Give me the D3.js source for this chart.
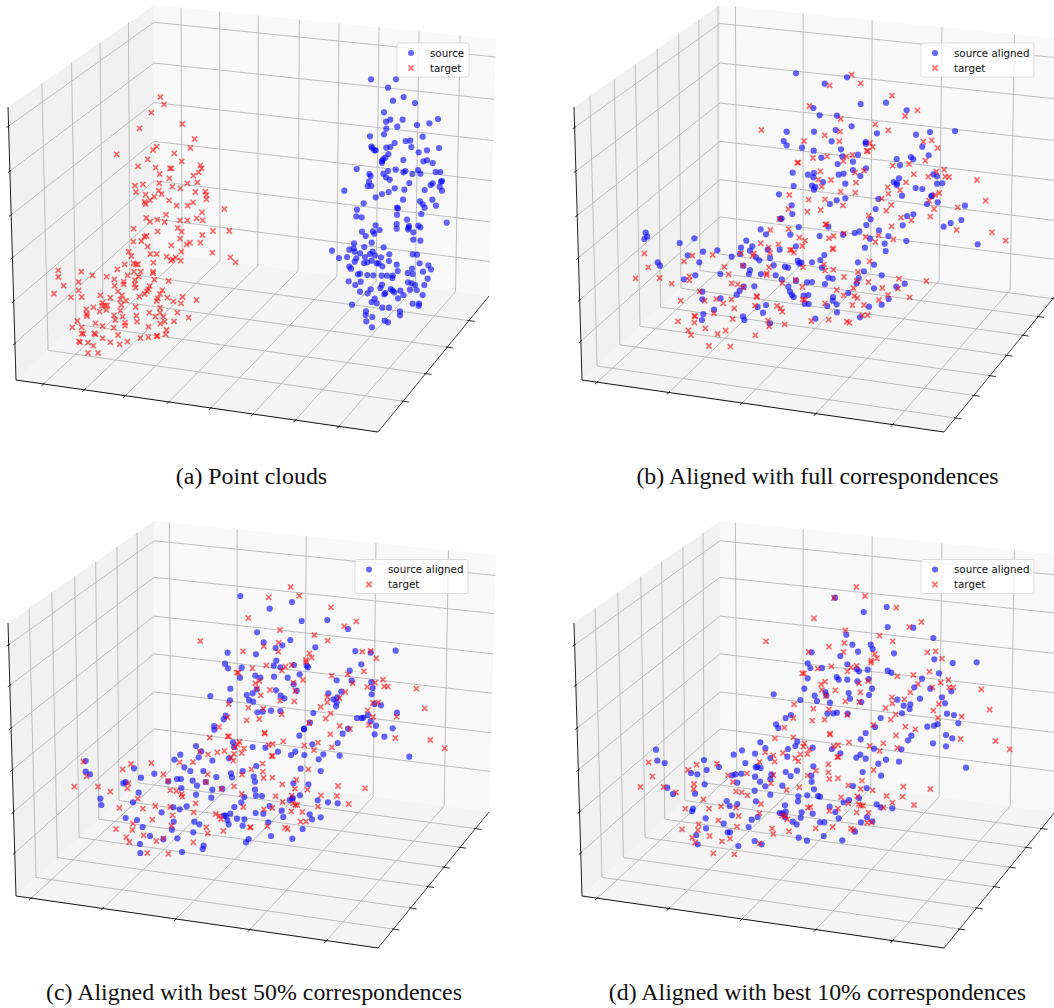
<!DOCTYPE html>
<html lang="en">
<head>
    <meta charset="utf-8">
    <style>
        body { margin: 0; background: #fff; overflow: hidden; }
        svg { display: block; }
        .caption { font-family: "Liberation Serif", serif; font-size: 23.9px; fill: #111; text-anchor: middle; }
        .legend text { font-family: "DejaVu Sans", sans-serif; font-size: 10.3px; fill: #111; }
    </style>
</head>
<body>
    <svg width="1054" height="1008"></svg>
    <script src="https://cdn.jsdelivr.net/npm/d3@7"></script>
    <script>
        /************************************************************************************
        * Data: points, [x, y] at 3x, each list relative to its own crop
        ************************************************************************************/
        const targetA = [[481,291],[492,313],[454,338],[547,372],[419,385],[584,417],[470,440],[459,450],[571,444],[350,463],[523,460],[443,478],[545,484],[414,499],[467,503],[510,505],[514,505],[601,496],[605,505],[596,517],[580,527],[479,522],[508,535],[478,550],[429,553],[405,557],[562,550],[592,547],[517,560],[541,565],[476,572],[408,576],[485,582],[437,584],[463,590],[586,576],[616,575],[619,585],[619,598],[450,600],[507,601],[434,606],[437,612],[579,607],[563,617],[530,617],[673,627],[606,637],[498,644],[439,654],[450,665],[472,659],[494,666],[540,661],[562,661],[590,655],[608,661],[533,684],[401,686],[473,694],[545,695],[639,693],[688,693],[607,705],[433,710],[440,708],[540,716],[400,725],[424,723],[570,728],[560,733],[601,728],[514,736],[443,740],[386,755],[544,755],[637,758],[451,762],[470,762],[394,768],[500,770],[518,778],[527,772],[513,782],[542,782],[691,772],[707,787],[374,793],[401,790],[408,793],[414,793],[460,788],[352,808],[175,811],[244,815],[402,815],[422,815],[459,815],[459,820],[277,826],[320,830],[383,826],[416,830],[175,831],[343,838],[405,840],[463,839],[506,843],[371,845],[371,853],[236,846],[404,853],[449,858],[344,857],[191,857],[407,863],[445,868],[441,874],[487,871],[236,871],[354,874],[162,881],[434,882],[480,882],[366,886],[245,891],[213,892],[301,886],[331,893],[418,890],[473,895],[502,893],[548,891],[361,898],[378,902],[470,903],[589,900],[520,904],[543,910],[307,908],[315,916],[322,916],[407,921],[280,922],[259,928],[306,918],[319,930],[299,935],[364,915],[480,923],[361,932],[448,938],[532,938],[260,942],[261,948],[342,946],[368,950],[409,947],[466,950],[490,950],[480,938],[346,960],[494,965],[411,965],[481,971],[522,964],[566,953],[232,963],[287,970],[375,968],[375,977],[308,978],[217,982],[245,982],[341,983],[445,980],[500,990],[245,1001],[250,1001],[283,1000],[286,1003],[354,1005],[470,1008],[472,1008],[497,1003],[421,1014],[445,1012],[308,1015],[237,1024],[240,1027],[264,1028],[331,1027],[382,1025],[359,1033],[280,1037],[264,1059],[294,1059]];
        const sourceA = [[333,238],[408,238],[384,263],[399,302],[431,291],[465,309],[372,337],[378,365],[391,359],[428,359],[534,357],[508,370],[471,375],[412,380],[379,386],[372,403],[330,409],[488,410],[437,423],[451,422],[404,429],[334,440],[337,444],[343,451],[347,451],[379,443],[391,441],[454,441],[501,451],[537,444],[476,457],[385,462],[376,473],[369,478],[366,483],[366,488],[430,480],[490,484],[501,481],[518,489],[290,507],[384,513],[407,509],[436,513],[430,517],[474,510],[457,522],[481,521],[527,516],[541,516],[328,522],[332,528],[370,521],[378,532],[389,539],[327,545],[323,558],[334,558],[448,549],[543,545],[546,543],[518,550],[512,555],[539,560],[546,572],[253,572],[404,565],[433,569],[494,570],[386,576],[366,582],[347,592],[429,599],[517,599],[480,604],[488,613],[494,623],[528,617],[311,610],[291,629],[411,623],[414,625],[411,644],[484,642],[289,649],[305,652],[441,659],[560,668],[347,676],[410,672],[447,678],[446,683],[475,677],[481,682],[444,688],[410,686],[306,695],[339,694],[343,701],[359,690],[460,697],[317,708],[460,719],[481,722],[335,728],[282,730],[313,741],[371,742],[216,752],[268,749],[281,745],[284,755],[300,760],[338,755],[330,762],[345,766],[237,774],[261,771],[289,775],[315,771],[363,772],[388,763],[458,763],[471,764],[284,785],[312,789],[322,787],[335,782],[350,790],[356,790],[387,783],[479,790],[268,800],[273,806],[367,799],[410,794],[505,796],[513,808],[413,813],[443,819],[456,806],[458,822],[489,815],[294,823],[300,821],[322,825],[340,826],[365,827],[381,827],[398,827],[397,834],[503,836],[266,844],[302,845],[286,855],[444,847],[455,850],[465,855],[493,855],[366,854],[361,864],[332,868],[392,867],[398,872],[403,877],[421,872],[450,869],[470,870],[300,875],[323,880],[376,879],[373,883],[430,885],[488,885],[414,895],[344,896],[335,906],[350,910],[458,911],[477,911],[476,917],[276,914],[367,923],[387,923],[318,934],[420,934],[317,945],[337,951],[420,946],[319,964],[374,962],[384,967],[336,982]];

        const sourceBLeft = [[693,70],[665,245],[656,273],[665,286],[683,368],[686,408],[642,433],[680,466],[682,492],[646,506],[650,506],[701,531],[587,538],[603,553],[676,554],[544,572],[388,565],[344,579],[242,548],[247,560],[238,567],[528,593],[562,589],[693,589],[608,599],[644,599],[555,602],[525,612],[500,620],[457,601],[414,605],[368,616],[615,624],[573,622],[583,631],[403,637],[278,637],[285,647],[535,647],[555,660],[552,672],[626,646],[660,650],[669,653],[698,632],[703,641],[466,672],[588,672],[632,676],[391,676],[357,688],[650,688],[693,692],[568,709],[536,710],[670,710],[524,722],[515,734],[412,725],[675,725],[681,735],[686,741],[467,745],[412,748],[415,792],[411,810],[447,779],[603,765],[578,771],[594,788],[534,799],[538,810],[615,820]];
        const targetBLeft = [[589,240],[700,338],[697,338],[673,435],[670,477],[644,507],[671,537],[616,540],[703,563],[587,580],[640,583],[611,592],[680,600],[675,600],[687,608],[527,610],[567,610],[563,617],[615,609],[443,615],[382,617],[238,610],[357,634],[250,652],[212,685],[284,684],[373,679],[373,691],[320,701],[478,651],[491,673],[533,647],[612,652],[605,675],[605,670],[652,699],[692,690],[500,700],[518,703],[535,712],[404,724],[347,752],[419,752],[454,747],[475,760],[500,748],[575,738],[576,741],[570,767],[636,768],[647,775],[652,785],[508,775],[447,790],[388,798],[391,799],[339,814],[503,807],[388,818],[421,835],[370,841],[378,855],[458,852],[482,842],[571,856],[432,888],[496,890],[612,829],[609,812],[659,823]];
        const sourceBRight = [[141,82],[74,101],[182,162],[258,158],[40,174],[320,181],[59,196],[111,197],[155,229],[42,245],[107,240],[390,246],[465,243],[231,250],[348,254],[95,274],[197,276],[197,281],[367,290],[6,293],[41,302],[123,298],[386,316],[127,319],[174,314],[64,323],[290,327],[333,321],[340,328],[159,335],[113,342],[300,346],[198,355],[159,360],[24,374],[42,369],[40,382],[116,374],[131,371],[181,378],[400,373],[411,379],[297,385],[281,396],[291,400],[290,405],[411,401],[427,400],[69,396],[136,401],[36,407],[46,411],[42,419],[347,414],[367,417],[306,437],[136,445],[110,451],[90,462],[235,447],[394,439],[396,437],[381,462],[413,457],[495,467],[227,477],[321,498],[340,493],[212,508],[199,525],[85,530],[484,510],[452,519],[431,530],[308,526],[237,541],[178,544],[164,549],[129,554],[59,558],[265,558],[210,566],[319,573],[254,581],[533,583],[195,593],[257,603],[73,615],[61,630],[36,637],[174,637],[222,644],[66,653],[192,664],[245,676],[176,684],[85,683],[98,686],[21,697],[36,696],[170,700],[75,702],[314,701],[289,710],[222,715],[145,729],[11,737],[25,735],[266,747],[99,741],[98,752],[14,761],[26,762],[245,764],[82,768],[110,763],[207,770],[111,787],[180,802],[46,806],[4,638]];
        const targetBRight = [[155,74],[182,100],[89,106],[276,137],[28,168],[352,181],[315,198],[122,207],[226,223],[120,245],[265,241],[74,256],[12,273],[118,274],[395,271],[370,275],[210,279],[218,291],[413,294],[200,303],[204,303],[157,315],[139,319],[130,333],[81,319],[39,324],[376,332],[327,342],[278,347],[192,362],[165,368],[61,364],[432,359],[409,365],[385,380],[341,373],[436,380],[447,381],[55,389],[93,390],[168,398],[318,397],[263,412],[65,410],[300,420],[122,425],[166,428],[265,431],[418,429],[405,435],[245,446],[531,390],[557,452],[26,449],[75,448],[129,466],[274,465],[387,452],[473,472],[402,477],[259,482],[22,485],[62,480],[206,497],[391,500],[303,503],[334,511],[275,529],[76,523],[79,523],[470,540],[576,547],[617,572],[132,550],[101,558],[87,565],[197,561],[236,556],[226,576],[280,568],[15,572],[7,588],[100,595],[98,598],[209,634],[72,643],[9,652],[75,662],[100,659],[174,666],[132,681],[297,686],[7,711],[170,693],[205,696],[379,693],[160,714],[247,714],[294,716],[110,720],[264,735],[131,736],[329,742],[163,738],[172,744],[237,750],[8,748],[15,750],[75,760],[157,765],[192,765],[187,796],[203,795],[86,809],[34,813],[141,815],[148,818]];

        const sourceCLeft = [[571,78],[533,248],[525,281],[534,295],[575,293],[570,323],[541,356],[481,378],[590,375],[597,390],[540,391],[527,437],[521,448],[492,468],[493,479],[549,517],[552,531],[438,528],[391,554],[373,569],[454,544],[446,562],[487,572],[537,565],[107,573],[252,595],[403,592],[107,605],[120,613],[313,611],[421,603],[460,603],[273,623],[381,627],[393,627],[227,636],[220,640],[428,632],[499,621],[543,610],[578,603],[546,622],[355,634],[441,647],[467,636],[394,654],[487,659],[517,656],[266,668],[438,674],[484,683],[151,686],[249,697],[154,705],[583,681],[574,697],[553,711],[410,709],[370,712],[389,718],[335,727],[541,731],[527,737],[522,737],[532,750],[227,744],[261,750],[561,746],[583,748],[371,755],[433,755],[448,763],[536,763],[578,767],[278,771],[366,779],[430,787],[300,798],[340,808],[382,805],[596,807],[588,817],[270,822],[461,827],[458,837],[271,849],[396,846]];
        const targetCLeft = [[595,144],[451,213],[579,244],[561,308],[565,308],[536,402],[595,413],[533,442],[590,451],[507,471],[479,503],[533,499],[537,499],[568,516],[563,524],[555,532],[582,535],[502,547],[523,543],[575,549],[450,545],[474,553],[552,552],[543,562],[550,572],[429,576],[389,577],[100,575],[243,582],[304,579],[218,598],[110,619],[340,613],[473,613],[576,614],[73,650],[144,650],[181,665],[235,640],[232,655],[468,636],[354,633],[552,649],[514,657],[361,661],[379,663],[395,672],[397,680],[575,672],[263,686],[437,700],[208,714],[316,708],[279,716],[361,711],[431,727],[497,732],[508,738],[513,747],[580,711],[368,736],[307,749],[249,761],[364,767],[198,777],[247,780],[469,772],[473,790],[600,772],[520,783],[281,796],[229,802],[319,813],[340,805],[238,816],[430,817],[292,849],[355,851]];
        const sourceCRight = [[126,96],[59,116],[155,153],[232,150],[294,177],[21,187],[121,210],[41,217],[97,226],[77,234],[196,232],[316,243],[437,242],[362,248],[18,253],[79,272],[334,283],[71,287],[91,292],[132,285],[170,287],[174,292],[299,302],[149,313],[16,317],[31,323],[72,320],[113,323],[260,331],[305,332],[364,336],[131,343],[368,354],[20,358],[78,361],[140,362],[8,370],[365,373],[235,370],[274,365],[92,377],[103,385],[250,388],[262,382],[10,395],[260,397],[258,409],[374,402],[393,406],[22,427],[38,425],[63,422],[91,423],[190,429],[321,444],[335,444],[340,443],[354,435],[441,428],[362,454],[180,458],[162,478],[162,476],[378,467],[294,476],[278,491],[428,475],[148,497],[374,493],[403,500],[8,531],[46,533],[187,523],[263,519],[84,545],[136,545],[123,555],[163,555],[220,553],[269,557],[478,560],[206,568],[19,588],[152,596],[212,603],[11,620],[15,635],[130,640],[175,643],[15,659],[18,677],[36,678],[150,676],[128,684],[119,690],[203,691],[234,697],[263,700],[59,708],[95,722],[17,729],[40,731],[179,733],[100,741],[212,742],[186,748],[55,757],[158,777],[63,798],[127,806],[127,686]];
        const targetCRight = [[122,51],[56,82],[148,77],[243,112],[319,154],[283,169],[90,180],[193,195],[233,212],[86,218],[41,229],[85,245],[178,250],[185,263],[337,245],[362,243],[379,265],[168,270],[168,276],[7,295],[49,286],[106,290],[125,285],[96,302],[342,304],[245,317],[293,313],[159,330],[130,338],[399,329],[375,338],[308,340],[28,333],[16,340],[352,351],[403,349],[414,350],[499,356],[136,363],[60,360],[21,356],[286,366],[32,376],[232,381],[268,384],[90,392],[133,394],[232,397],[212,411],[369,399],[385,397],[524,415],[40,416],[95,433],[353,421],[242,430],[227,446],[369,441],[440,440],[28,447],[177,459],[269,468],[357,465],[300,477],[44,488],[44,491],[241,493],[436,504],[541,510],[584,535],[100,514],[204,518],[163,526],[246,532],[56,525],[68,522],[192,540],[65,558],[68,558],[38,581],[4,598],[39,605],[175,598],[139,630],[41,624],[67,623],[97,643],[264,648],[345,655],[135,656],[172,659],[77,679],[125,677],[213,676],[261,678],[98,696],[136,705],[142,705],[129,700],[296,702],[204,710],[42,718],[67,714],[124,724],[157,726],[152,755],[168,755],[52,769],[105,773],[113,777],[2,772]];

        const sourceDLeft = [[560,247],[548,280],[556,294],[548,325],[538,356],[446,373],[569,377],[576,393],[526,390],[498,435],[482,444],[453,463],[460,474],[406,517],[517,515],[511,528],[421,534],[489,537],[563,533],[93,539],[351,541],[390,551],[326,554],[436,564],[487,560],[97,572],[237,570],[119,579],[282,591],[245,600],[198,609],[217,613],[361,579],[392,592],[397,590],[407,594],[349,611],[332,613],[322,616],[565,589],[482,606],[516,602],[497,618],[390,620],[439,613],[436,627],[405,635],[337,638],[239,643],[559,617],[560,635],[421,649],[472,647],[389,662],[127,653],[144,672],[210,671],[436,674],[567,658],[579,678],[547,676],[520,679],[519,694],[305,693],[393,694],[337,702],[314,708],[480,706],[204,716],[201,724],[464,729],[472,730],[482,725],[480,742],[503,755],[530,727],[527,743],[515,763],[563,731],[321,736],[398,741],[380,749],[242,745],[296,761],[243,775],[371,771],[315,787],[308,787],[214,795],[521,803],[546,812],[218,823],[340,828],[389,813],[410,823]];
        const targetDLeft = [[567,145],[423,214],[551,246],[532,310],[537,310],[578,296],[507,403],[565,416],[505,444],[478,473],[562,452],[450,505],[505,502],[538,520],[535,530],[553,538],[421,547],[474,549],[526,553],[445,556],[547,552],[511,565],[520,574],[449,575],[403,576],[71,577],[215,584],[276,581],[189,600],[82,619],[309,616],[366,610],[445,615],[548,616],[573,602],[324,636],[438,640],[46,651],[116,651],[153,667],[207,642],[206,657],[523,652],[485,660],[333,664],[350,667],[367,676],[235,688],[408,702],[549,713],[556,711],[181,716],[252,716],[288,709],[333,713],[403,730],[341,738],[471,737],[481,738],[280,751],[487,748],[221,763],[219,780],[171,778],[336,770],[441,775],[445,792],[492,784],[572,775],[254,798],[202,803],[211,817],[315,806],[291,814],[404,820],[265,850],[328,853]];
        const sourceDRight = [[45,83],[200,111],[131,126],[203,171],[280,173],[79,194],[340,204],[97,224],[152,224],[158,237],[114,245],[222,250],[61,258],[343,268],[398,279],[470,277],[82,283],[6,294],[110,297],[117,304],[143,299],[203,302],[214,308],[357,310],[50,321],[56,329],[82,329],[112,334],[146,327],[306,326],[283,352],[331,356],[156,356],[394,364],[16,366],[19,376],[86,369],[147,375],[90,386],[232,389],[300,386],[366,382],[30,398],[124,396],[375,400],[251,407],[271,403],[269,417],[22,431],[40,430],[51,428],[83,431],[246,430],[381,431],[402,435],[182,444],[415,460],[322,470],[342,467],[353,462],[165,471],[137,489],[378,495],[274,497],[264,511],[122,508],[397,505],[339,520],[378,529],[36,537],[162,536],[244,538],[61,550],[121,554],[109,563],[137,566],[198,569],[237,575],[175,581],[438,593],[128,606],[183,617],[99,648],[140,654],[0,680],[117,684],[71,697],[87,690],[170,703],[182,712],[217,715],[29,710],[46,726],[56,745],[141,742],[157,754],[123,757],[0,757],[13,757],[105,785],[11,798],[67,811]];
        const targetDRight = [[109,51],[135,78],[42,84],[229,113],[304,156],[268,171],[76,181],[179,197],[218,214],[73,219],[27,230],[71,246],[322,247],[347,244],[366,266],[164,252],[171,265],[154,272],[153,278],[34,289],[93,292],[110,288],[82,304],[328,305],[232,319],[280,315],[144,333],[117,340],[15,335],[3,343],[385,330],[362,338],[294,342],[46,361],[6,360],[337,352],[388,352],[400,352],[484,358],[121,367],[271,367],[18,378],[216,382],[253,388],[76,394],[118,396],[217,400],[197,414],[357,402],[27,418],[509,419],[340,422],[227,433],[82,435],[212,449],[14,449],[354,444],[425,440],[160,465],[256,470],[286,478],[30,491],[30,494],[228,496],[422,507],[527,513],[569,538],[87,517],[190,520],[149,528],[232,534],[54,525],[41,529],[179,543],[52,561],[55,561],[25,583],[25,607],[161,600],[28,627],[54,625],[126,632],[85,646],[250,650],[331,657],[122,657],[158,661],[63,682],[112,679],[200,678],[248,680],[85,700],[116,703],[122,707],[129,707],[282,705],[190,713],[217,698],[28,723],[54,716],[110,727],[145,728],[38,771],[93,776],[100,780],[141,758],[155,757]];

        // Tick positions as fractions of each cube edge
        const xTicksWide = [0.084, 0.197, 0.31, 0.43, 0.546, 0.663, 0.78, 0.9];
        const xTicksNarrow = [0.05, 0.248, 0.45, 0.654, 0.866];
        const yTicksA = [0.232, 0.435, 0.63, 0.825];
        const yTicksB = [0.109, 0.275, 0.42, 0.57, 0.717, 0.855, 0.986];
        const yTicksCD = [0.145, 0.3, 0.457, 0.6, 0.746, 0.884];
        const zTicksA = [0.07, 0.235, 0.395, 0.552, 0.712, 0.866];
        const zTicksB = [0.075, 0.235, 0.397, 0.552, 0.707, 0.858];
        const zTicksCD = [0.08, 0.228, 0.385, 0.538, 0.692, 0.842];

        const captions = ["(a) Point clouds", "(b) Aligned with full correspondences",
                          "(c) Aligned with best 50% correspondences", "(d) Aligned with best 10% correspondences"];
        const legendLabels = [["source", "target"], ["source aligned", "target"], ["source aligned", "target"], ["source aligned", "target"]];

        /************************************************************************************
        * Layout
        ************************************************************************************/
        const svg = d3.select("svg");

        // Projected corners of the 3D box, same view for all four plots
        const cube = {
            frontLeft: [16, 380], frontRight: [378, 432], backRight: [489, 296], backLeft: [154, 252],
            topFrontLeft: [8, 107], topBackLeft: [154, 5], topBackRight: [496, 39]
        };
        const panes = [
            { corners: ["frontLeft", "topFrontLeft", "topBackLeft", "backLeft"], fill: "#f1f1f1" },
            { corners: ["backLeft", "topBackLeft", "topBackRight", "backRight"], fill: "#f8f8f8" },
            { corners: ["frontLeft", "frontRight", "backRight", "backLeft"], fill: "#f4f4f4" }
        ];

        const panels = [
            { dx: 0, dy: 0, xTicks: xTicksWide, yTicks: yTicksA, zTicks: zTicksA, captionX: 251.5, captionY: 484,
              legend: { x: 397, y: 43, w: 72, markerX: 411, textX: 430 },
              crops: [{ x0: 0, y0: 0, source: [], target: targetA }, { x0: 260, y0: 0, source: sourceA, target: [] }] },
            { dx: 566, dy: 0, xTicks: xTicksNarrow, yTicks: yTicksB, zTicks: zTicksB, captionX: 817.5, captionY: 484,
              legend: { x: 921, y: 43, w: 113, markerX: 935, textX: 954 },
              crops: [{ x0: 565, y0: 50, source: sourceBLeft, target: targetBLeft }, { x0: 800, y0: 50, source: sourceBRight, target: targetBRight }] },
            { dx: 0, dy: 516, xTicks: xTicksNarrow, yTicks: yTicksCD, zTicks: zTicksCD, captionX: 254, captionY: 1000,
              legend: { x: 355, y: 559.5, w: 113, markerX: 369, textX: 388 },
              crops: [{ x0: 50, y0: 570, source: sourceCLeft, target: targetCLeft }, { x0: 250, y0: 570, source: sourceCRight, target: targetCRight }] },
            { dx: 566, dy: 516, xTicks: xTicksNarrow, yTicks: yTicksCD, zTicks: zTicksCD, captionX: 817.5, captionY: 1000,
              legend: { x: 921, y: 559.5, w: 113, markerX: 935, textX: 954 },
              crops: [{ x0: 625, y0: 570, source: sourceDLeft, target: targetDLeft }, { x0: 820, y0: 570, source: sourceDRight, target: targetDRight }] }
        ];

        const line = d3.line();
        const crossPath = d3.symbol().type(d3.symbolX).size(19)();

        function segment(g, a, b, color, width) {
            g.append("path").attr("d", line([a, b])).attr("fill", "none").attr("stroke", color).attr("stroke-width", width);
        }

        // Small tick across an axis edge, pointing along the grid line that ends there
        function tick(g, end, from, inner, outer) {
            const dx = end[0] - from[0], dy = end[1] - from[1], len = Math.hypot(dx, dy);
            const ux = dx / len, uy = dy / len;
            segment(g, [end[0] - ux * inner, end[1] - uy * inner], [end[0] + ux * outer, end[1] + uy * outer], "#000", 0.8);
        }

        function drawBox(g, panel) {
            const c = cube;
            const edge = (p, q) => d3.interpolateArray(p, q);
            const frontEdge = edge(c.frontLeft, c.frontRight), backEdge = edge(c.backLeft, c.backRight);
            const topEdge = edge(c.topBackLeft, c.topBackRight), sideEdge = edge(c.frontLeft, c.backLeft);
            const rightEdge = edge(c.frontRight, c.backRight), leftTopEdge = edge(c.topFrontLeft, c.topBackLeft);
            const leftEdge = edge(c.topFrontLeft, c.frontLeft), cornerEdge = edge(c.topBackLeft, c.backLeft);
            const wallRightEdge = edge(c.topBackRight, c.backRight);

            g.selectAll("polygon").data(panes).join("polygon")
                .attr("points", d => d.corners.map(k => c[k].join(",")).join(" "))
                .attr("fill", d => d.fill);

            const gridColor = "#b8b8b8";
            panel.xTicks.forEach(t => {
                segment(g, frontEdge(t - 0.008), backEdge(t), gridColor, 0.9);
                segment(g, backEdge(t), topEdge(t - 0.005), gridColor, 0.9);
            });
            panel.yTicks.forEach(t => {
                segment(g, sideEdge(t), rightEdge(t - 0.006), gridColor, 0.9);
                segment(g, sideEdge(t), leftTopEdge(t), gridColor, 0.9);
            });
            panel.zTicks.forEach(t => {
                segment(g, leftEdge(t), cornerEdge(t), gridColor, 0.9);
                segment(g, cornerEdge(t), wallRightEdge(t), gridColor, 0.9);
            });

            // Axis lines and ticks
            segment(g, c.topFrontLeft, c.frontLeft, "#222", 1);
            segment(g, c.frontLeft, c.frontRight, "#111", 1);
            segment(g, c.frontRight, c.backRight, "#111", 0.8);
            panel.xTicks.forEach(t => tick(g, frontEdge(t - 0.008), backEdge(t), 1.5, 3));
            panel.yTicks.forEach(t => tick(g, rightEdge(t - 0.006), sideEdge(t), 1.5, 6));
            panel.zTicks.forEach(t => tick(g, leftEdge(t), cornerEdge(t), 1.5, 2.5));
        }

        // Values are read at 3x from a crop of the picture that starts at x0, y0
        function cropScales(crop) {
            return {
                x: d3.scaleLinear().domain([0, 1054 * 3]).range([crop.x0, crop.x0 + 1054]),
                y: d3.scaleLinear().domain([0, 1008 * 3]).range([crop.y0, crop.y0 + 1008])
            };
        }

        function drawLegend(g, panel, labels) {
            const l = panel.legend;
            const legend = g.append("g").attr("class", "legend");
            legend.append("rect").attr("x", l.x).attr("y", l.y).attr("width", l.w).attr("height", 34)
                .attr("rx", 2).attr("fill", "#fff").attr("fill-opacity", 0.8).attr("stroke", "#ccc").attr("stroke-opacity", 0.8).attr("stroke-width", 0.8);
            legend.append("circle").attr("cx", l.markerX).attr("cy", l.y + 10).attr("r", 3).attr("fill", "#00f").attr("fill-opacity", 0.6);
            legend.append("path").attr("d", crossPath).attr("transform", `translate(${l.markerX},${l.y + 25})`)
                .attr("fill", "none").attr("stroke", "#f00").attr("stroke-opacity", 0.6).attr("stroke-width", 1.6);
            labels.forEach((text, i) => {
                legend.append("text").attr("x", l.textX).attr("y", l.y + 13.5 + i * 15).text(text);
            });
        }

        /************************************************************************************
        * Draw
        ************************************************************************************/
        panels.forEach((panel, i) => {
            drawBox(svg.append("g").attr("transform", `translate(${panel.dx},${panel.dy})`), panel);

            const scales = panel.crops.map(cropScales);
            panel.crops.forEach((crop, k) => {
                const { x, y } = scales[k];
                svg.append("g").selectAll("circle").data(crop.source).join("circle")
                    .attr("cx", d => x(d[0])).attr("cy", d => y(d[1])).attr("r", 3.1)
                    .attr("fill", "#00f").attr("fill-opacity", 0.6);
            });
            panel.crops.forEach((crop, k) => {
                const { x, y } = scales[k];
                svg.append("g").selectAll("path").data(crop.target).join("path")
                    .attr("d", crossPath).attr("transform", d => `translate(${x(d[0])},${y(d[1])})`)
                    .attr("fill", "none").attr("stroke", "#f00").attr("stroke-opacity", 0.6).attr("stroke-width", 1.6);
            });

            drawLegend(svg, panel, legendLabels[i]);
            svg.append("text").attr("class", "caption").attr("x", panel.captionX).attr("y", panel.captionY).text(captions[i]);
        });
    </script>
</body>
</html>
